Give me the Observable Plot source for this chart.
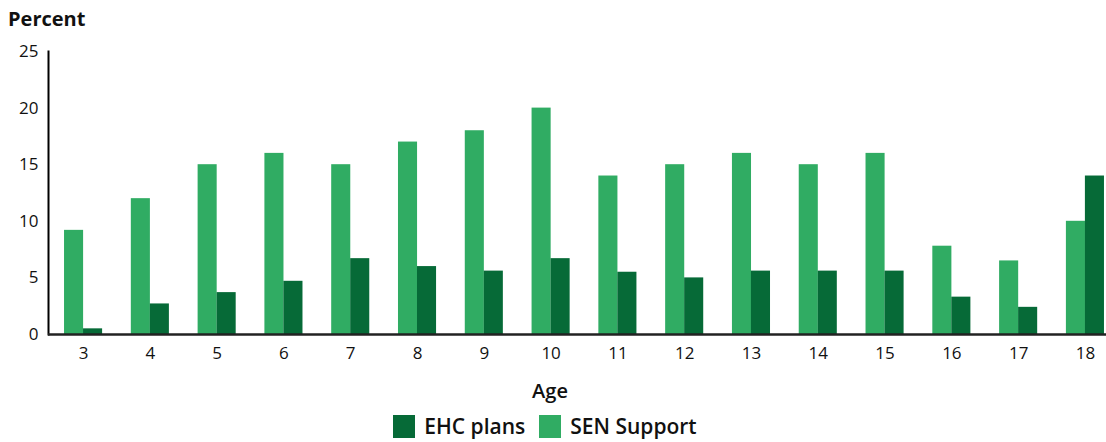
<!DOCTYPE html>
<html>
<head>
<meta charset="utf-8">
<script src="https://cdn.jsdelivr.net/npm/d3@7"></script>
<script src="https://cdn.jsdelivr.net/npm/@observablehq/plot@0.6"></script>
<style>
  html, body { margin: 0; padding: 0; background: #fff; overflow: hidden; }
  body { width: 1106px; font-family: "Open Sans", sans-serif; color: #111; }
  #title { height: 40px; line-height: 38px; padding-left: 8px; font-weight: 700; font-size: 20px; }
  #xlabel { width: 1100px; text-align: center; font-weight: 600; font-size: 20px; margin-top: 14px; height: 26px; line-height: 26px; }
  #legend { width: 1090px; display: flex; justify-content: center; align-items: center; gap: 14px; margin-top: 8px; font-size: 21px; font-weight: 600; }
  .item { display: flex; align-items: center; gap: 9px; }
  .sw { width: 22px; height: 23px; display: inline-block; }
</style>
</head>
<body>
<div id="title">Percent</div>
<div id="chart"></div>
<div id="xlabel">Age</div>
<div id="legend"></div>
<script>
const ages = [3, 4, 5, 6, 7, 8, 9, 10, 11, 12, 13, 14, 15, 16, 17, 18];
const senSupport = [9.2, 12, 15, 16, 15, 17, 18, 20, 14, 15, 16, 15, 16, 7.8, 6.5, 10];
const ehcPlans = [0.5, 2.7, 3.7, 4.7, 6.7, 6.0, 5.6, 6.7, 5.5, 5.0, 5.6, 5.6, 5.6, 3.3, 2.4, 14];
const yTicks = [0, 5, 10, 15, 20, 25];
const seriesNames = ["EHC plans", "SEN Support"];
const seriesColors = ["#066a37", "#30ac63"];

const data = ages.map((a, i) => ({age: String(a), sen: senSupport[i], ehc: ehcPlans[i]}));

const chart = Plot.plot({
  width: 1106,
  height: 324,
  marginTop: 11,
  marginLeft: 48,
  marginRight: 0,
  marginBottom: 30,
  style: {fontFamily: "Open Sans, sans-serif", fontSize: "17px", color: "#111", background: "#fff"},
  x: {domain: ages.map(String), range: [48, 1120], paddingInner: 0.43, paddingOuter: 0.24, round: false, label: null},
  y: {domain: [0, 25], label: null},
  marks: [
    Plot.barY(data, {x: "age", y: "sen", fill: seriesColors[1], insetRight: 19}),
    Plot.barY(data, {x: "age", y: "ehc", fill: seriesColors[0], insetLeft: 19}),
    Plot.axisY({ticks: yTicks, tickSize: 0, tickPadding: 10, label: null}),
    Plot.axisX({tickSize: 0, tickPadding: 12, label: null}),
    Plot.frame({anchor: "left", stroke: "#000", strokeWidth: 2}),
    Plot.ruleY([0], {stroke: "#222", strokeWidth: 2.5})
  ]
});
document.getElementById("chart").appendChild(chart);

const legend = document.getElementById("legend");
seriesNames.forEach((name, i) => {
  const it = document.createElement("div");
  it.className = "item";
  const sw = document.createElement("span");
  sw.className = "sw";
  sw.style.background = seriesColors[i];
  const t = document.createElement("span");
  t.textContent = name;
  it.appendChild(sw);
  it.appendChild(t);
  legend.appendChild(it);
});
</script>
</body>
</html>
